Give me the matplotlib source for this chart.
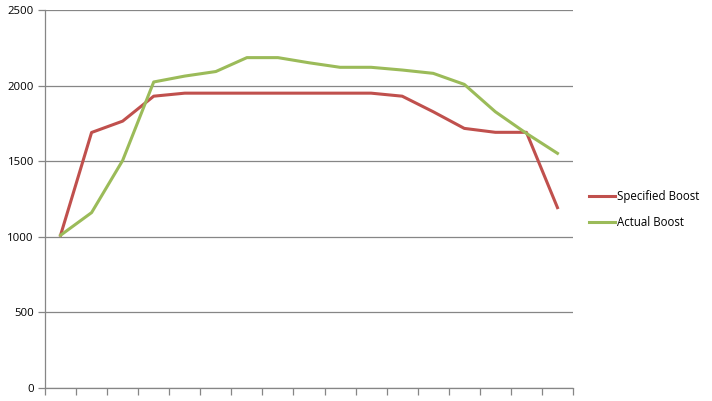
import matplotlib.pyplot as plt
import numpy as np

specified = [1010, 1690, 1765, 1930, 1950, 1950, 1950, 1950, 1950, 1950, 1950, 1930, 1827, 1717, 1691, 1691, 1193]
actual = [1010, 1160, 1505, 2024, 2063, 2093, 2185, 2185, 2151, 2121, 2121, 2103, 2081, 2008, 1827, 1684, 1552]
labels = ['Specified Boost', 'Actual Boost']

red = '#C0504D'
green = '#9BBB59'
grey = '#868686'

plt.rcParams['font.family'] = ['Open Sans', 'DejaVu Sans']

fig = plt.figure(figsize=(7.12, 4.01), dpi=100)
ax = fig.add_axes([45/712, 13/401, 528/712, 378/401])

x = np.arange(len(specified)) + 0.5
ax.plot(x, specified, color=red, linewidth=2.2, label=labels[0])
ax.plot(x, actual, color=green, linewidth=2.2, label=labels[1])

ax.set_xlim(0, len(specified))
ax.set_ylim(0, 2500)
ax.set_yticks(np.arange(0, 2501, 500))
ax.set_xticks(np.arange(0, len(specified) + 1))
ax.set_xticklabels([])
ax.yaxis.grid(True, color=grey, linewidth=0.9)
ax.set_axisbelow(True)
for s in ['top', 'right']:
    ax.spines[s].set_visible(False)
for s in ['left', 'bottom']:
    ax.spines[s].set_color(grey)
    ax.spines[s].set_linewidth(0.9)
ax.tick_params(axis='both', colors=grey, length=5, width=0.9, labelsize=8.2, labelcolor='black')
ax.tick_params(axis='y', pad=3)

ax.legend(loc='center left', bbox_to_anchor=(1.01, 0.473), frameon=False, fontsize=8.3,
          handlelength=2.3, handletextpad=0.2, labelspacing=1.1)

fig.savefig('out.png', dpi=100)
